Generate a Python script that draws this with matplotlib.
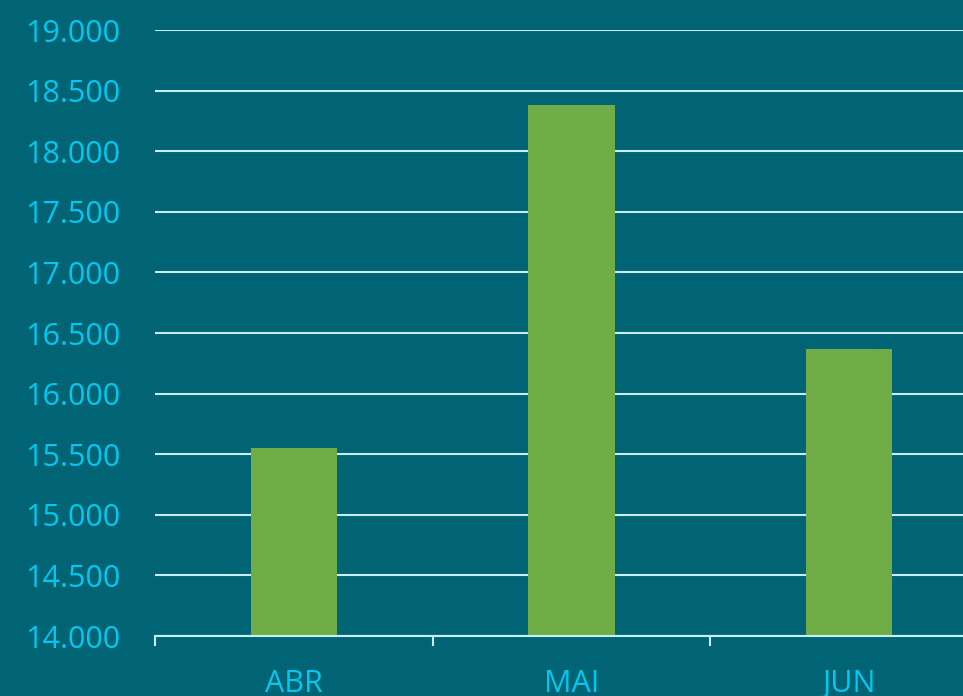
import matplotlib
matplotlib.use("Agg")
import matplotlib.pyplot as plt
from matplotlib.ticker import FuncFormatter, MultipleLocator

categories = ["ABR", "MAI", "JUN"]
values = [15550, 18380, 16370]

bg = "#006475"
txt = "#00C8F0"
grid = "#C8EEF5"
bar_c = "#70AD47"

plt.rcParams['font.family'] = ['Open Sans', 'DejaVu Sans']

fig = plt.figure(figsize=(9.63, 6.96), dpi=100, facecolor=bg)
ax = fig.add_axes([155/963, 1-636/696, (988-155)/963, (636-30)/696])
ax.set_facecolor(bg)

x = list(range(len(categories)))
ax.bar(x, values, width=0.31, color=bar_c, zorder=3)
ax.set_xlim(-0.5, len(categories) - 0.5)
ax.set_ylim(14000, 19000)
ax.yaxis.set_major_locator(MultipleLocator(500))
ax.yaxis.set_major_formatter(FuncFormatter(lambda v, p: f"{int(v):,}".replace(",", ".")))
ax.grid(axis='y', color=grid, linewidth=1.5, zorder=1)
ax.set_axisbelow(True)

for s in ["left", "right", "top"]:
    ax.spines[s].set_visible(False)
ax.spines["bottom"].set_color(grid)
ax.spines["bottom"].set_linewidth(1.5)
ax.spines["bottom"].set_zorder(4)

ax.set_xticks([i - 0.5 for i in range(len(categories) + 1)], minor=False)
ax.set_xticklabels([])
ax.set_xticks(x, minor=True)
ax.set_xticklabels(categories, minor=True)
ax.tick_params(axis='x', which='major', length=7, width=1.5, color=grid, direction='out')
ax.tick_params(axis='x', which='minor', length=0, pad=24, labelsize=22, labelcolor=txt)
ax.tick_params(axis='y', length=0, pad=25, labelsize=22, labelcolor=txt)

fig.savefig("out.png", dpi=100, facecolor=bg)
